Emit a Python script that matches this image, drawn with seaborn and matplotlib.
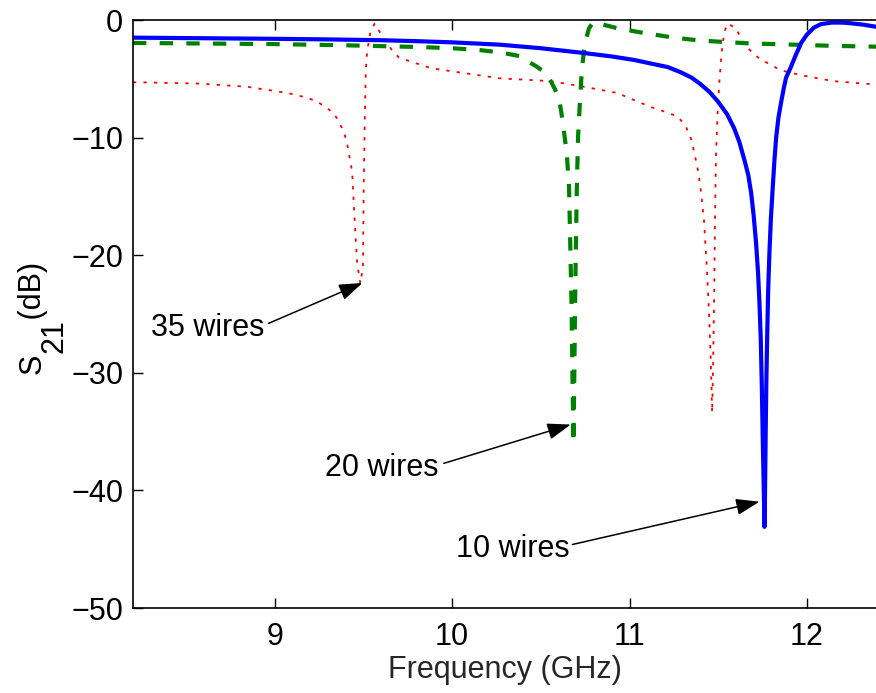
import numpy as np
import pandas as pd
import matplotlib
matplotlib.use("Agg")
import matplotlib.pyplot as plt
import seaborn as sns

# ---- data ----
freq_10 = [8.2, 8.6, 9.0, 9.3, 9.6, 9.8, 10.0, 10.27, 10.5, 10.74, 10.9, 11.027, 11.12, 11.215,
           11.29, 11.35, 11.40, 11.45, 11.497, 11.55, 11.59, 11.62, 11.648, 11.67, 11.686,
           11.70, 11.714, 11.725, 11.733, 11.74, 11.746, 11.752, 11.758, 11.761, 11.764,
           11.768, 11.772, 11.777, 11.782, 11.789, 11.798, 11.808, 11.817, 11.827, 11.84,
           11.855, 11.87, 11.883, 11.91, 11.94, 11.97, 12.0, 12.04, 12.08, 12.14, 12.2,
           12.25, 12.32, 12.4]
s21_10 = [-1.5, -1.55, -1.6, -1.65, -1.72, -1.8, -1.9, -2.1, -2.4, -2.8, -3.1, -3.4, -3.7, -4.0,
          -4.45, -4.9, -5.45, -6.1, -6.9, -8.0, -9.2, -10.4, -11.9, -13.2, -14.7,
          -16.6, -19.0, -21.5, -24.1, -27.0, -31.0, -36.0, -40.5, -43.1, -40.5,
          -35.0, -30.5, -26.5, -23.0, -19.8, -16.7, -14.2, -12.0, -10.0, -8.3,
          -7.0, -5.8, -4.9, -4.0, -2.9, -1.9, -1.25, -0.65, -0.35, -0.22, -0.22,
          -0.28, -0.4, -0.6]

freq_20 = [8.2, 8.6, 9.0, 9.4, 9.82, 10.0, 10.15, 10.27, 10.39, 10.424, 10.47, 10.528, 10.556,
           10.58, 10.603, 10.615, 10.627, 10.646, 10.659, 10.665, 10.673, 10.678, 10.684,
           10.688, 10.692, 10.697, 10.703, 10.710, 10.720, 10.731, 10.744, 10.757, 10.772,
           10.79, 10.81, 10.838, 10.88, 10.93, 11.08, 11.25, 11.40, 11.69, 11.87, 12.15, 12.4]
s21_20 = [-1.95, -2.0, -2.05, -2.15, -2.3, -2.4, -2.55, -2.75, -3.1, -3.5, -3.9, -4.5, -5.2,
          -5.9, -6.8, -7.8, -9.1, -11.3, -14.2, -18.4, -24.1, -29.8, -36.0,
          -31.2, -25.5, -19.8, -14.2, -9.9, -7.1, -4.25, -2.55, -1.5, -0.7,
          -0.3, -0.15, -0.35, -0.5, -0.7, -1.1, -1.5, -1.75, -2.0, -2.07, -2.2, -2.27]

freq_35 = [8.2, 8.24, 8.56, 8.84, 9.07, 9.18, 9.24, 9.285, 9.33, 9.36, 9.388, 9.405, 9.416,
           9.436, 9.445, 9.454, 9.464, 9.482, 9.497, 9.501, 9.507, 9.513, 9.52, 9.539, 9.563,
           9.595, 9.66, 9.70, 9.88, 10.27, 10.556, 10.74, 10.93, 11.12, 11.2, 11.27, 11.30,
           11.319, 11.345, 11.366, 11.385, 11.40, 11.42, 11.437, 11.45, 11.46, 11.466,
           11.472, 11.478, 11.482, 11.488, 11.497, 11.506, 11.52, 11.535, 11.554, 11.60,
           11.648, 11.695, 11.742, 11.80, 11.846, 11.97, 12.15, 12.4]
s21_35 = [-5.3, -5.3, -5.4, -5.67, -6.2, -6.6, -6.95, -7.4, -7.9, -8.6, -9.5, -10.3, -11.2,
          -12.9, -15.6, -18.1, -20.7, -22.4, -21.0, -14.2, -8.5, -4.25, -2.7, -1.0, -0.3,
          -1.1, -2.55, -3.2, -4.1, -4.96, -5.2, -5.67, -6.2, -7.4, -7.8, -8.2, -8.7,
          -9.1, -10.0, -11.3, -12.7, -14.2, -17.0, -21.3, -25.5, -29.8, -33.4,
          -29.0, -22.7, -17.0, -11.3, -7.9, -5.4, -2.7, -1.0, -0.3, -0.7,
          -2.1, -2.8, -3.4, -3.8, -4.25, -4.7, -5.2, -5.5]

labels = ["35 wires", "20 wires", "10 wires"]
label_pos = [(8.302, -26.85), (9.285, -38.75), (10.019, -45.64)]
arrow_tail = [(8.964, -25.8), (9.953, -37.7), (10.678, -44.6)]
arrow_tip = [(9.494, -22.36), (10.669, -34.4), (11.733, -40.96)]

x_ticks = [9, 10, 11, 12]
y_ticks = [0, -10, -20, -30, -40, -50]

# ---- style ----
sns.set_style("ticks")
plt.rcParams["font.family"] = ["Liberation Sans", "DejaVu Sans"]

W, H = 876, 693
fig = plt.figure(figsize=(W / 100, H / 100), dpi=100)
ax = fig.add_axes([133 / W, 1 - 608 / H, 1 - 133 / W + 0.002, (608 - 20) / H])

d35 = pd.DataFrame({"f": freq_35, "s": s21_35})
d20 = pd.DataFrame({"f": freq_20, "s": s21_20})
d10 = pd.DataFrame({"f": freq_10, "s": s21_10})

sns.lineplot(data=d35, x="f", y="s", ax=ax, sort=False, estimator=None, color="#ff0000",
             lw=1.3, linestyle=(0, (1.8, 4.0)))
sns.lineplot(data=d20, x="f", y="s", ax=ax, sort=False, estimator=None, color="#008000",
             lw=3.0, linestyle=(0, (3.2, 3.2)))
sns.lineplot(data=d10, x="f", y="s", ax=ax, sort=False, estimator=None, color="#0000ff",
             lw=3.0)

for lab, pos, tail, tip in zip(labels, label_pos, arrow_tail, arrow_tip):
    ax.text(pos[0], pos[1], lab, fontsize=22, ha="left", va="baseline", color="black")
    ax.annotate("", xy=tip, xytext=tail,
                arrowprops=dict(arrowstyle="-|>,head_length=0.8,head_width=0.28",
                                mutation_scale=18, color="black", lw=1.1,
                                shrinkA=0, shrinkB=0))

ax.set_xlim(8.2, 12.4)
ax.set_ylim(-50, 0)
ax.set_xticks(x_ticks)
ax.set_yticks(y_ticks)
ax.tick_params(direction="in", length=7, width=1, labelsize=22, top=True, right=False,
               colors="black")
ax.tick_params(axis="x", pad=10)
ax.tick_params(axis="y", pad=7)
for side in ["left", "bottom", "top"]:
    ax.spines[side].set_color("black")
    ax.spines[side].set_linewidth(1.2)
ax.spines["right"].set_visible(False)

ax.set_xlabel("Frequency (GHz)", fontsize=22, labelpad=2)
ax.set_ylabel("")

# y label built as MATLAB renders it: "S" with a large, strongly lowered "21"
def px(x, y):
    return x / W, 1 - y / H

tkw = dict(rotation=90, rotation_mode="anchor", ha="left", va="baseline",
           fontsize=22, color="black")
fig.text(*px(41, 374), "S", **tkw)
fig.text(*px(62, 353), "21", **tkw)
fig.text(*px(41, 328), " (dB)", **tkw)

fig.savefig("out.png", dpi=100)
